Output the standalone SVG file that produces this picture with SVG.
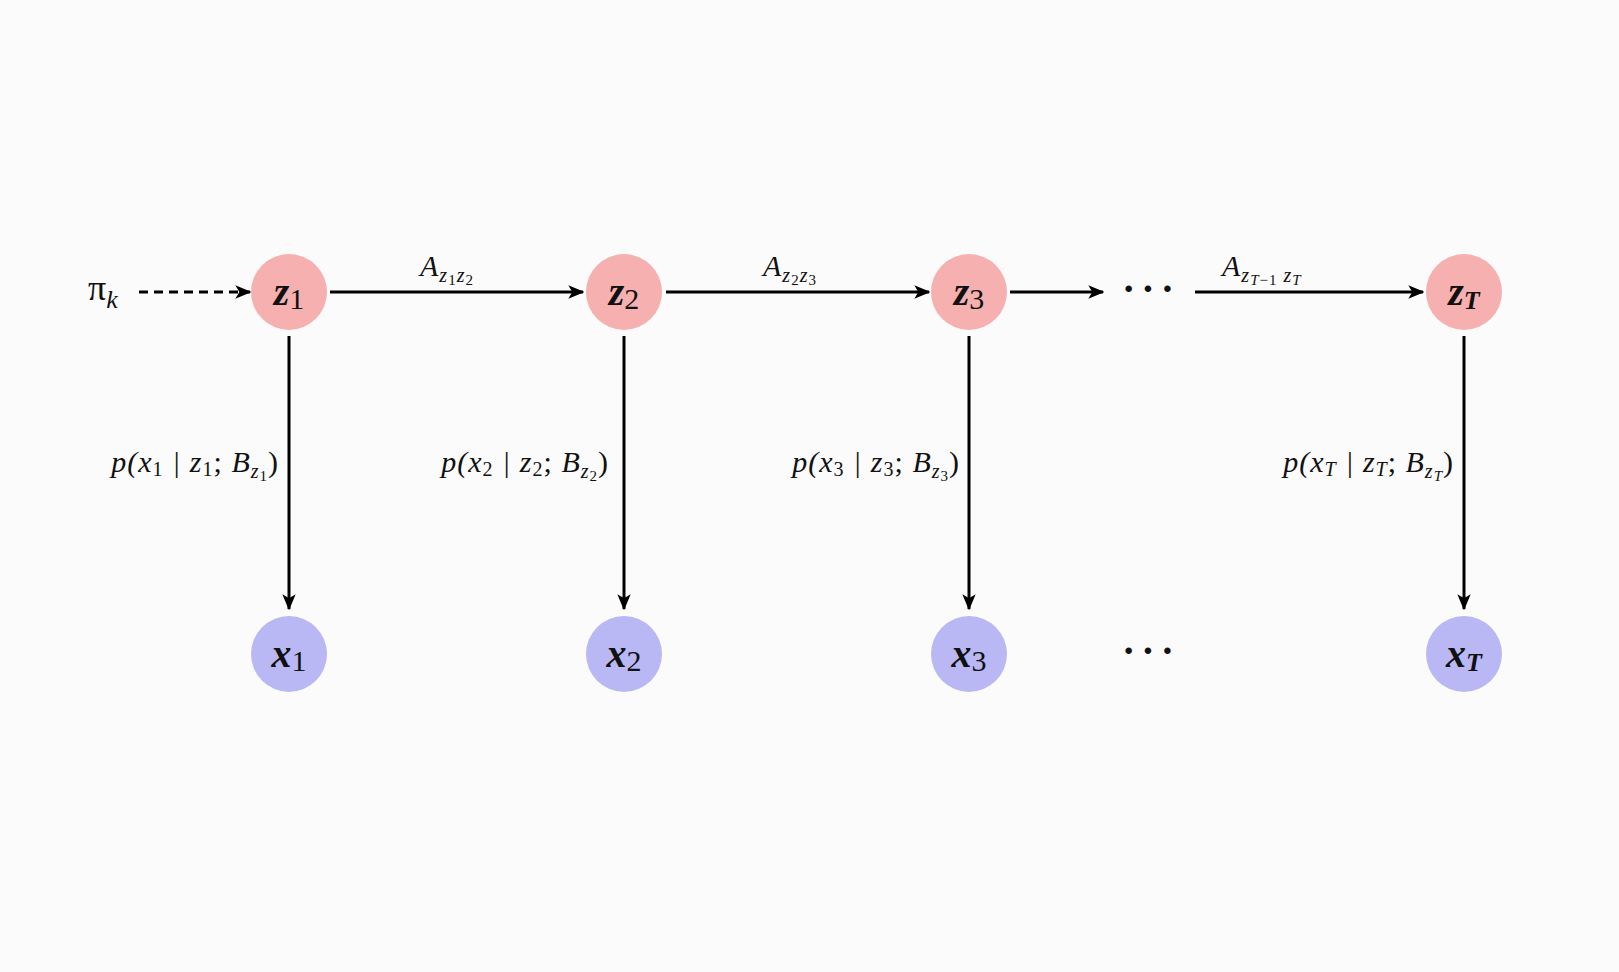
<svg xmlns="http://www.w3.org/2000/svg" width="1619" height="972" viewBox="0 0 1619 972">
<defs>
<marker id="a" viewBox="0 0 12 10" refX="11" refY="5" markerWidth="16" markerHeight="14" orient="auto" markerUnits="userSpaceOnUse"><path d="M0,0 L12,5 L0,10 L3,5 Z" fill="#000"/></marker>
</defs>
<style>
text{font-family:"Liberation Serif","DejaVu Serif",serif;fill:#111}
.lbl{font-size:30px;font-style:italic;letter-spacing:1px}
.sub{font-size:20px}
.node{font-size:40px;font-weight:bold;font-style:italic}
.z{fill:#f6b0b0}
.x{fill:#b9b8f4}
.e{stroke:#000;stroke-width:3;fill:none;marker-end:url(#a)}
.dots{font-size:40px;font-weight:bold;letter-spacing:6px}
</style>
<rect width="1619" height="972" fill="#fbfbfb"/>
<g id="connectors">
<path class="e" d="M139,292 H250" stroke-dasharray="9,6"/>
<path class="e" d="M330,292 H583"/>
<path class="e" d="M666,292 H929"/>
<path class="e" d="M1010,292 H1103"/>
<path class="e" d="M1195,292 H1423"/>
<path class="e" d="M289,336 V609"/>
<path class="e" d="M624,336 V609"/>
<path class="e" d="M969,336 V609"/>
<path class="e" d="M1464,336 V609"/>
</g>
<g id="pi"><text x="88" y="300" font-size="36">π<tspan font-style="italic" font-size="26" dy="8">k</tspan></text></g>
<g id="z1"><circle class="z" cx="289" cy="292" r="38"/><text class="node" x="289" y="305" text-anchor="middle">z<tspan font-weight="normal" font-style="normal" font-size="30" dy="4">1</tspan></text></g>
<g id="z2"><circle class="z" cx="624" cy="292" r="38"/><text class="node" x="624" y="305" text-anchor="middle">z<tspan font-weight="normal" font-style="normal" font-size="30" dy="4">2</tspan></text></g>
<g id="z3"><circle class="z" cx="969" cy="292" r="38"/><text class="node" x="969" y="305" text-anchor="middle">z<tspan font-weight="normal" font-style="normal" font-size="30" dy="4">3</tspan></text></g>
<g id="zT"><circle class="z" cx="1464" cy="292" r="38"/><text class="node" x="1464" y="305" text-anchor="middle">z<tspan font-size="26" dy="4">T</tspan></text></g>
<g id="x1"><circle class="x" cx="289" cy="654" r="38"/><text class="node" x="289" y="667" text-anchor="middle">x<tspan font-weight="normal" font-style="normal" font-size="30" dy="4">1</tspan></text></g>
<g id="x2"><circle class="x" cx="624" cy="654" r="38"/><text class="node" x="624" y="667" text-anchor="middle">x<tspan font-weight="normal" font-style="normal" font-size="30" dy="4">2</tspan></text></g>
<g id="x3"><circle class="x" cx="969" cy="654" r="38"/><text class="node" x="969" y="667" text-anchor="middle">x<tspan font-weight="normal" font-style="normal" font-size="30" dy="4">3</tspan></text></g>
<g id="xT"><circle class="x" cx="1464" cy="654" r="38"/><text class="node" x="1464" y="667" text-anchor="middle">x<tspan font-size="26" dy="4">T</tspan></text></g>
<g id="dots-top"><text class="dots" x="1151" y="302" text-anchor="middle">···</text></g>
<g id="dots-bottom"><text class="dots" x="1151" y="664" text-anchor="middle">···</text></g>
<g id="labels">
<text class="lbl" x="420" y="276">A<tspan class="sub" dy="6">z</tspan><tspan font-size="15" font-style="normal" dy="3">1</tspan><tspan class="sub" dy="-3">z</tspan><tspan font-size="15" font-style="normal" dy="3">2</tspan></text>
<text class="lbl" x="763" y="276">A<tspan class="sub" dy="6">z</tspan><tspan font-size="15" font-style="normal" dy="3">2</tspan><tspan class="sub" dy="-3">z</tspan><tspan font-size="15" font-style="normal" dy="3">3</tspan></text>
<text class="lbl" x="1222" y="276">A<tspan class="sub" dy="6">z</tspan><tspan font-size="15" dy="3">T</tspan><tspan font-size="15" font-style="normal">−1</tspan><tspan class="sub" dy="-3"> z</tspan><tspan font-size="15" dy="3">T</tspan></text>
<text class="lbl" x="279" y="472" text-anchor="end">p(x<tspan class="sub" font-style="normal" dy="4">1</tspan><tspan dy="-4">  |  z</tspan><tspan class="sub" font-style="normal" dy="4">1</tspan><tspan dy="-4" font-style="normal">;</tspan><tspan> B</tspan><tspan class="sub" dy="6">z</tspan><tspan font-size="15" font-style="normal" dy="3">1</tspan><tspan font-style="normal" dy="-9">)</tspan></text>
<text class="lbl" x="609" y="472" text-anchor="end">p(x<tspan class="sub" font-style="normal" dy="4">2</tspan><tspan dy="-4">  |  z</tspan><tspan class="sub" font-style="normal" dy="4">2</tspan><tspan dy="-4" font-style="normal">;</tspan><tspan> B</tspan><tspan class="sub" dy="6">z</tspan><tspan font-size="15" font-style="normal" dy="3">2</tspan><tspan font-style="normal" dy="-9">)</tspan></text>
<text class="lbl" x="960" y="472" text-anchor="end">p(x<tspan class="sub" font-style="normal" dy="4">3</tspan><tspan dy="-4">  |  z</tspan><tspan class="sub" font-style="normal" dy="4">3</tspan><tspan dy="-4" font-style="normal">;</tspan><tspan> B</tspan><tspan class="sub" dy="6">z</tspan><tspan font-size="15" font-style="normal" dy="3">3</tspan><tspan font-style="normal" dy="-9">)</tspan></text>
<text class="lbl" x="1454" y="472" text-anchor="end">p(x<tspan class="sub" dy="4">T</tspan><tspan dy="-4">  |  z</tspan><tspan class="sub" dy="4">T</tspan><tspan dy="-4" font-style="normal">;</tspan><tspan> B</tspan><tspan class="sub" dy="6">z</tspan><tspan font-size="15" dy="3">T</tspan><tspan font-style="normal" dy="-9">)</tspan></text>
</g>
</svg>
